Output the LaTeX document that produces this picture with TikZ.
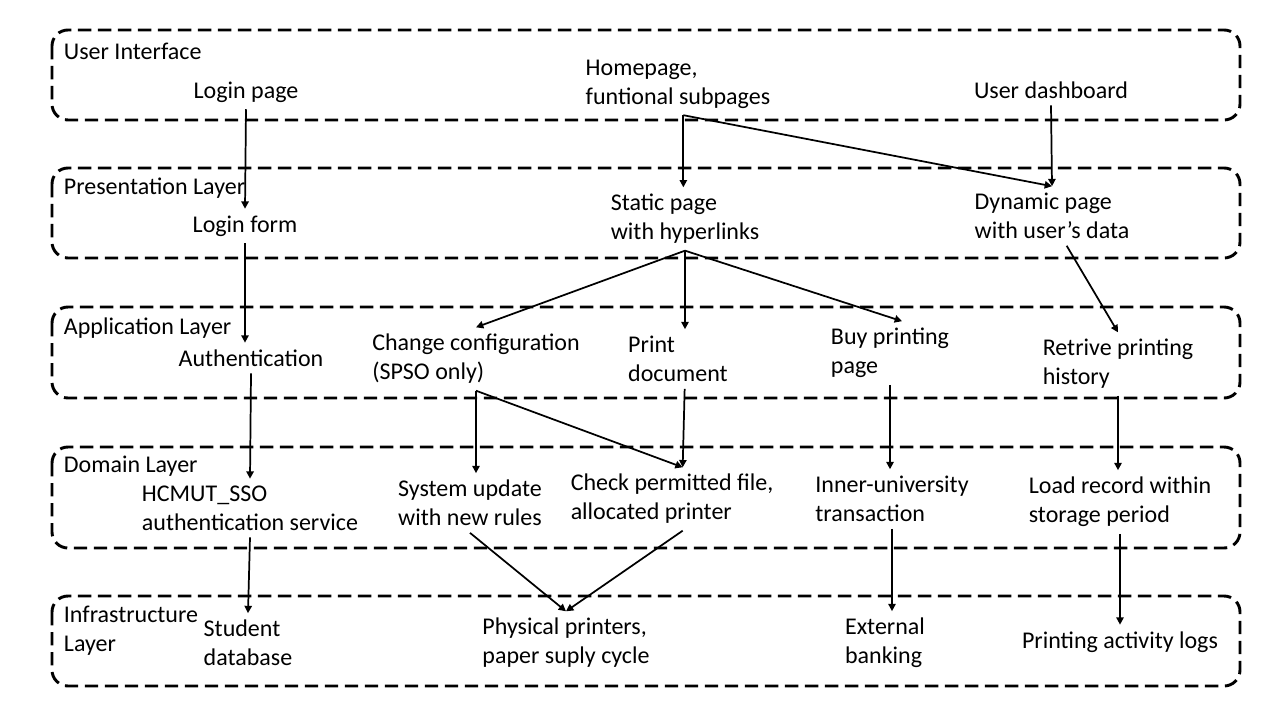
\documentclass[tikz,border=0pt]{standalone}
\usepackage{fontspec}
\setmainfont{Carlito}
\usepackage{tikz}
\usetikzlibrary{positioning, arrows.meta, calc}

\begin{document}
\begin{tikzpicture}[x=0.75pt, y=-0.75pt,
    txt/.style={align=left, inner sep=5pt, font=\fontsize{18}{21.75}\selectfont},
    lbl/.style={anchor=west, align=left, inner sep=2pt, font=\fontsize{18}{21.75}\selectfont},
    layer/.style={draw, dash pattern=on 10pt off 5pt, line width=2.2pt, rounded corners=12pt},
    arr/.style={-{Triangle[width=5.5pt, length=5.5pt]}, line width=1.3pt}]
    \useasboundingbox (0,0) rectangle (1280,720);

    % layers
    \draw[layer] (52,30) rectangle (1240,120);
    \draw[layer] (52,168) rectangle (1240,258);
    \draw[layer] (52,307) rectangle (1240,398);
    \draw[layer] (52,447) rectangle (1240,548);
    \draw[layer] (52,596) rectangle (1240,686);

    \node[lbl] (lui) at (61,51) {User Interface};
    \node[lbl] (lpres) at (61,188) {Presentation Layer};
    \node[lbl] (lapp) at (61,328) {Application Layer};
    \node[lbl] (ldom) at (61,466) {Domain Layer};
    \node[lbl] (linf) at (61,631) {Infrastructure\\Layer};

    % user interface
    \node[txt] (loginpage) at (246,92) {Login page};
    \node[txt] (home) at (678,84) {Homepage,\\funtional subpages};
    \node[txt] (dash) at (1051,90) {User dashboard};

    % presentation
    \node[txt] (loginform) at (245,226) {Login form};
    \node[txt] (static) at (685,219) {Static page\\with hyperlinks};
    \node[txt] (dynamic) at (1052,216) {Dynamic page\\with user’s data};

    % application
    \node[txt] (auth) at (251,358) {Authentication};
    \node[txt] (config) at (476,359) {Change configuration\\(SPSO only)};
    \node[txt] (print) at (678,359) {Print\\document};
    \node[txt] (buy) at (890,353) {Buy printing\\page};
    \node[txt] (history) at (1118,364) {Retrive printing\\history};

    % domain
    \node[txt] (sso) at (250,508) {HCMUT\_SSO\\authentication service};
    \node[txt] (update) at (470,503) {System update\\with new rules};
    \node[txt] (check) at (672,499) {Check permitted file,\\allocated printer};
    \node[txt] (inner) at (892,499) {Inner-university\\transaction};
    \node[txt] (load) at (1120,502) {Load record within\\storage period};

    % infrastructure
    \node[txt] (student) at (248,643) {Student\\database};
    \node[txt] (physical) at (566,643) {Physical printers,\\paper suply cycle};
    \node[txt] (external) at (885,643) {External\\banking};
    \node[txt] (logs) at (1120,642) {Printing activity logs};

    \draw[arr] (loginpage.south) -- (loginform.north);
    \draw[arr] ([xshift=4pt]home.south) -- ([xshift=4pt]home.south |- static.north);
    \draw[arr] ([xshift=4pt]home.south) -- (dynamic.north);
    \draw[arr] (dash.south) -- (dynamic.north);

    \draw[arr] (loginform.south) -- (loginform.south |- auth.north);
    \draw[arr] (static.south) -- (config.north);
    \draw[arr] (static.south) -- (static.south |- print.north);
    \draw[arr] (static.south) -- ([xshift=9pt]buy.north);
    \draw[arr] ([xshift=11pt]dynamic.south) -- (history.north);

    \draw[arr] (auth.south) -- (sso.north);
    \draw[arr] (config.south) -- (config.south |- update.north);
    \draw[arr] (config.south) -- ([xshift=8pt]check.north);
    \draw[arr] ([xshift=5pt]print.south) -- ([xshift=8pt]check.north);
    \draw[arr] (buy.south) -- (buy.south |- inner.north);
    \draw[arr] (history.south) -- (history.south |- load.north);

    \draw[arr] (sso.south) -- (student.north);
    \draw[arr] (update.south) -- (physical.north);
    \draw[arr] ([xshift=8pt]check.south) -- (physical.north);
    \draw[arr] (inner.south) -- (inner.south |- external.north);
    \draw[arr] (load.south) -- (load.south |- logs.north);
\end{tikzpicture}
\end{document}
